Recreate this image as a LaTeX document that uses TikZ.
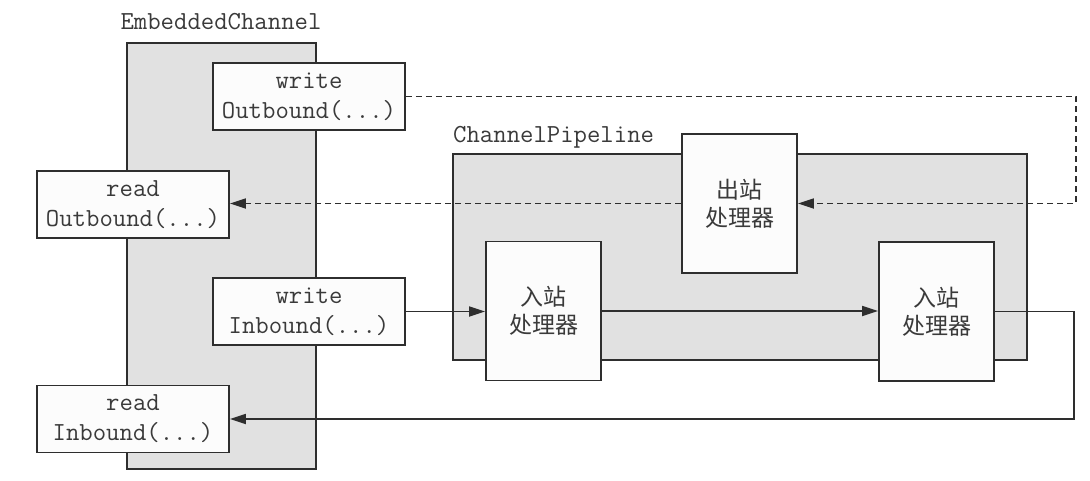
\documentclass[tikz,border=0pt]{standalone}
\usepackage{fontspec}
\newfontfamily\cjk{Noto Sans CJK SC}
\usetikzlibrary{arrows.meta}
\definecolor{linec}{HTML}{2E2E2E}
\definecolor{textc}{HTML}{3A3A3A}
\definecolor{panel}{HTML}{E1E1E1}
\definecolor{boxw}{HTML}{FCFCFC}
\begin{document}
\begin{tikzpicture}[x=1pt,y=-1pt,
  panelbox/.style={draw=linec,fill=panel,line width=1.8pt,inner sep=0pt},
  apibox/.style={draw=linec,fill=boxw,line width=1.8pt,minimum width=192pt,minimum height=67pt,inner sep=0pt,
     font=\fontsize{26}{30}\selectfont\ttfamily,text=textc,align=center},
  handler/.style={draw=linec,fill=boxw,line width=1.8pt,minimum width=115pt,minimum height=139pt,inner sep=0pt,
     font=\fontsize{23}{28}\selectfont\cjk,text=textc,align=center},
  title/.style={font=\fontsize{26}{30}\selectfont\ttfamily,text=textc,inner sep=0pt},
  conn/.style={draw=linec,line width=1.7pt,-{Triangle[length=16pt,width=10pt]}},
  dconn/.style={conn,dash pattern=on 6pt off 4pt}
]
\useasboundingbox (0,0) rectangle (1090,480);
% panels
\node[panelbox,minimum width=189pt,minimum height=426pt] (ec) at (221.5,256) {};
\node[title] (ectitle) at (221,22) {EmbeddedChannel};
\node[panelbox,minimum width=574pt,minimum height=206pt] (pipe) at (740,257) {};
\node[title,anchor=west] (pipetitle) at (453,137) {ChannelPipeline};
% api boxes
\node[apibox] (wo) at (309,96.5) {write\\Outbound(...)};
\node[apibox] (ro) at (133,204.5) {read\\Outbound(...)};
\node[apibox] (wi) at (309,311.5) {write\\Inbound(...)};
\node[apibox] (ri) at (133,419) {read\\Inbound(...)};
% handlers
\node[handler] (oh) at (739.5,203.5) {出站\\处理器};
\node[handler] (ih1) at (543.5,311) {入站\\处理器};
\node[handler] (ih2) at (936.5,311.5) {入站\\处理器};
% connectors
\coordinate (c1) at (1076,96.5);
\coordinate (c2) at (1074,311.5);
\draw[dconn] (wo.east) -- (c1) |- (oh.east);
\draw[dconn] (oh.west) -- (ro.east |- oh.west);
\draw[conn] (wi.east) -- (ih1.west |- wi.east);
\draw[conn] (ih1.east) -- (ih2.west |- ih1.east);
\draw[conn] (ih2.east) -- (c2) |- (ri.east);
\end{tikzpicture}
\end{document}
